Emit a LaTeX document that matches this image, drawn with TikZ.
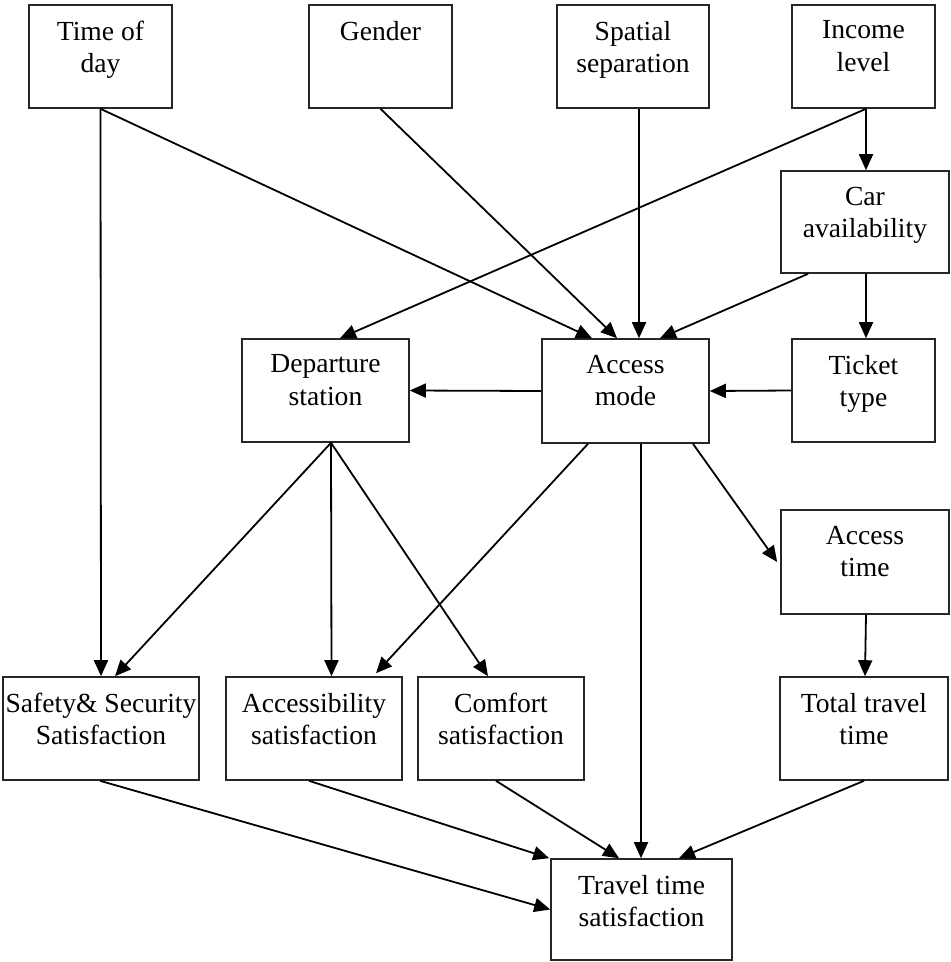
\documentclass[tikz,border=0pt]{standalone}
\usepackage{fontspec}
\setmainfont{Liberation Serif}
\usetikzlibrary{arrows.meta}
\begin{document}
\begin{tikzpicture}[x=1pt,y=-1pt,
  box/.style={draw=black!85,line width=1.6pt,rectangle,inner sep=0pt},
  txt/.style={anchor=north,inner sep=0pt,align=center,font=\fontsize{27.6}{32.5}\selectfont},
  arr/.style={line width=1.8pt,-{Triangle[length=16pt,width=14pt]}}]
\useasboundingbox (0,0) rectangle (951,962);
% boxes
\node[box,minimum width=143pt,minimum height=103pt] (tod) at (100.5,56.5) {};
\node[box,minimum width=143pt,minimum height=103pt] (gen) at (380.5,56.5) {};
\node[box,minimum width=152pt,minimum height=103pt] (spa) at (633,56.5) {};
\node[box,minimum width=143pt,minimum height=103pt] (inc) at (863.5,56.5) {};
\node[box,minimum width=168pt,minimum height=102pt] (car) at (865,222) {};
\node[box,minimum width=167pt,minimum height=103pt] (dep) at (325.5,390.5) {};
\node[box,minimum width=167pt,minimum height=104pt] (am) at (625.5,391) {};
\node[box,minimum width=143pt,minimum height=103pt] (tt) at (863.5,390.5) {};
\node[box,minimum width=168pt,minimum height=104pt] (at) at (865,562) {};
\node[box,minimum width=196pt,minimum height=103pt] (saf) at (101,728.5) {};
\node[box,minimum width=176pt,minimum height=103pt] (acc) at (314,728.5) {};
\node[box,minimum width=166pt,minimum height=103pt] (com) at (501,728.5) {};
\node[box,minimum width=168pt,minimum height=103pt] (ttt) at (864,728.5) {};
\node[box,minimum width=181pt,minimum height=101pt] (tts) at (641.5,909.5) {};
% texts
\node[txt] (todt) at ([yshift=-16.5pt]tod.north) {Time of\\day};
\node[txt] (gent) at ([yshift=-16.5pt]gen.north) {Gender};
\node[txt] (spat) at ([yshift=-16.5pt]spa.north) {Spatial\\separation};
\node[txt] (inct) at ([yshift=-16.5pt]inc.north) {Income\\level};
\node[txt] (cart) at ([yshift=-16.5pt]car.north) {Car\\availability};
\node[txt] (dept) at ([yshift=-16.5pt]dep.north) {Departure\\station};
\node[txt] (amt) at ([yshift=-16.5pt]am.north) {Access\\mode};
\node[txt] (ttt2) at ([yshift=-16.5pt]tt.north) {Ticket\\type};
\node[txt] (att) at ([yshift=-16.5pt]at.north) {Access\\time};
\node[txt] (saft) at ([yshift=-16.5pt]saf.north) {Safety\& Security\\Satisfaction};
\node[txt] (acct) at ([yshift=-16.5pt]acc.north) {Accessibility\\satisfaction};
\node[txt] (comt) at ([yshift=-16.5pt]com.north) {Comfort\\satisfaction};
\node[txt] (tttt) at ([yshift=-16.5pt]ttt.north) {Total travel\\time};
\node[txt] (ttst) at ([yshift=-16.5pt]tts.north) {Travel time\\satisfaction};
% connectors
\draw[arr] (tod.south) -- (saf.north);
\draw[arr] (tod.south) -- ([xshift=-33.5pt]am.north);
\draw[arr] (gen.south) -- ([xshift=-8.5pt]am.north);
\draw[arr] ([xshift=6pt]spa.south) -- ([xshift=13.5pt]am.north);
\draw[arr] ([xshift=2.5pt]inc.south) -- ([xshift=1pt]car.north);
\draw[arr] ([xshift=2.5pt]inc.south) -- ([xshift=14.5pt]dep.north);
\draw[arr] ([xshift=-57pt]car.south) -- ([xshift=34.5pt]am.north);
\draw[arr] ([xshift=1pt]car.south) -- ([xshift=2.5pt]tt.north);
\draw[arr] (tt.west) -- (am.east);
\draw[arr] (am.west) -- (dep.east);
\draw[arr] ([xshift=5.5pt]dep.south) -- ([xshift=14pt]saf.north);
\draw[arr] ([xshift=5.5pt]dep.south) -- ([xshift=17.5pt]acc.north);
\draw[arr] ([xshift=5.5pt]dep.south) -- ([xshift=-13pt]com.north);
\draw[arr] ([xshift=-37.5pt]am.south) -- ([xshift=62pt,yshift=3pt]acc.north);
\draw[arr] ([xshift=15.5pt]am.south) -- ([xshift=-0.5pt]tts.north);
\draw[arr] ([xshift=67.5pt]am.south) -- ([xshift=-3pt]at.west);
\draw[arr] ([xshift=1pt]at.south) -- ([xshift=1pt]ttt.north);
\draw[arr] ([xshift=-1pt]saf.south) -- (tts.west);
\draw[arr] ([xshift=-5pt]acc.south) -- ([xshift=-1pt]tts.north west);
\draw[arr] ([xshift=-5pt]com.south) -- ([xshift=-22.5pt]tts.north);
\draw[arr] (ttt.south) -- ([xshift=37.5pt]tts.north);
\end{tikzpicture}
\end{document}
